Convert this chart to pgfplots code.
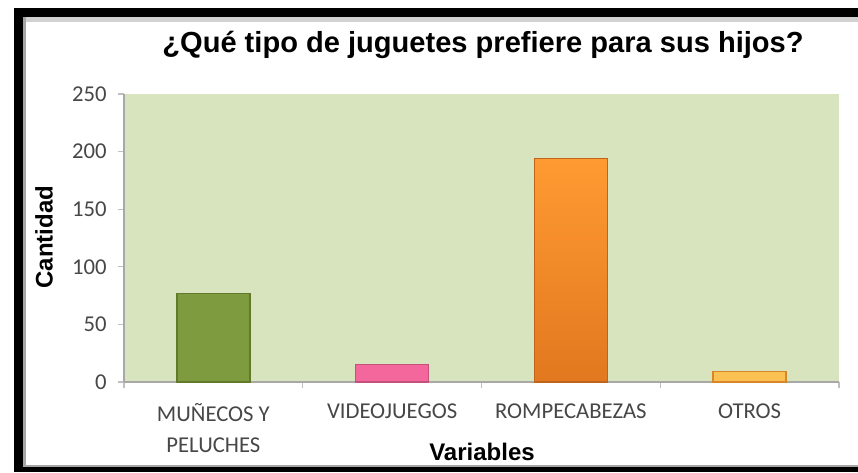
\documentclass[border=0pt]{standalone}
\usepackage{fontspec}
\setmainfont{Liberation Sans}
\newfontfamily\carlito{Carlito}
\usepackage{pgfplots}
\pgfplotsset{compat=1.18}
\definecolor{plotbg}{HTML}{D7E4BD}
\definecolor{gbar}{HTML}{7E9B3F}
\definecolor{gbard}{HTML}{62792C}
\definecolor{pbar}{HTML}{F3679C}
\definecolor{pbard}{HTML}{C4507C}
\definecolor{obartop}{HTML}{FF9A32}
\definecolor{obarbot}{HTML}{E2781F}
\definecolor{obard}{HTML}{BF651B}
\definecolor{ybar}{HTML}{FBC253}
\definecolor{ybard}{HTML}{D7872A}
\definecolor{axgray}{HTML}{A8A8A8}
\begin{document}
\begin{tikzpicture}
\useasboundingbox (0,0) rectangle (643.5pt,-354pt);
\begin{scope}[x=0.75pt,y=-0.75pt]
\fill[white] (0,0) rectangle (858,472);
\fill[black] (14,8) rectangle (858,472);
\fill[white] (23,17) rectangle (858,467);
\fill[black!18] (23,17) rectangle (858,22);
\fill[black!35] (23,17) rectangle (26,467);
\fill[black!35] (23,465) rectangle (858,467);
\node[font=\bfseries\fontsize{21.8}{25}\selectfont, anchor=base, inner sep=0pt] at (483,52) {¿Qué tipo de juguetes prefiere para sus hijos?};
\node[font=\bfseries\fontsize{18}{22}\selectfont, rotate=90, inner sep=0pt] at (44,237) {Cantidad};
\node[font=\bfseries\fontsize{18}{22}\selectfont, inner sep=0pt] at (482,452) {Variables};
\end{scope}
\begin{axis}[
  at={(93pt,-286.5pt)}, anchor=south west,
  scale only axis, width=536.25pt, height=216pt,
  xmin=-0.5, xmax=3.5, ymin=0, ymax=250,
  axis x line*=bottom, axis y line*=left,
  axis line style={draw=axgray, line width=1.6pt, -},
  axis background/.style={fill=plotbg},
  ytick={0,50,100,150,200,250},
  xtick={-0.5,0.5,1.5,2.5,3.5},
  x tick label as interval,
  xticklabels={{MUÑECOS Y\\PELUCHES},VIDEOJUEGOS,ROMPECABEZAS,OTROS,{}},
  tick align=outside,
  major tick length=4.5pt,
  tick style={draw=black!25, line width=1pt},
  /pgf/number format/assume math mode=true,
  ticklabel style={font=\carlito\fontsize{17}{23}\selectfont, text=black!72},
  xticklabel style={align=center, yshift=-8pt},
  yticklabel style={xshift=-5pt},
  ybar, bar width=54.75pt,
  clip=false,
]
\addplot[bar shift=0pt, fill=gbar, draw=gbard, line width=1pt] coordinates {(0,77)};
\addplot[bar shift=0pt, fill=pbar, draw=pbard, line width=1pt] coordinates {(1,15)};
\addplot[bar shift=0pt, top color=obartop, bottom color=obarbot, draw=obard, line width=1pt] coordinates {(2,194)};
\addplot[bar shift=0pt, fill=ybar, draw=ybard, line width=1pt] coordinates {(3,9)};
\end{axis}
\end{tikzpicture}
\end{document}
